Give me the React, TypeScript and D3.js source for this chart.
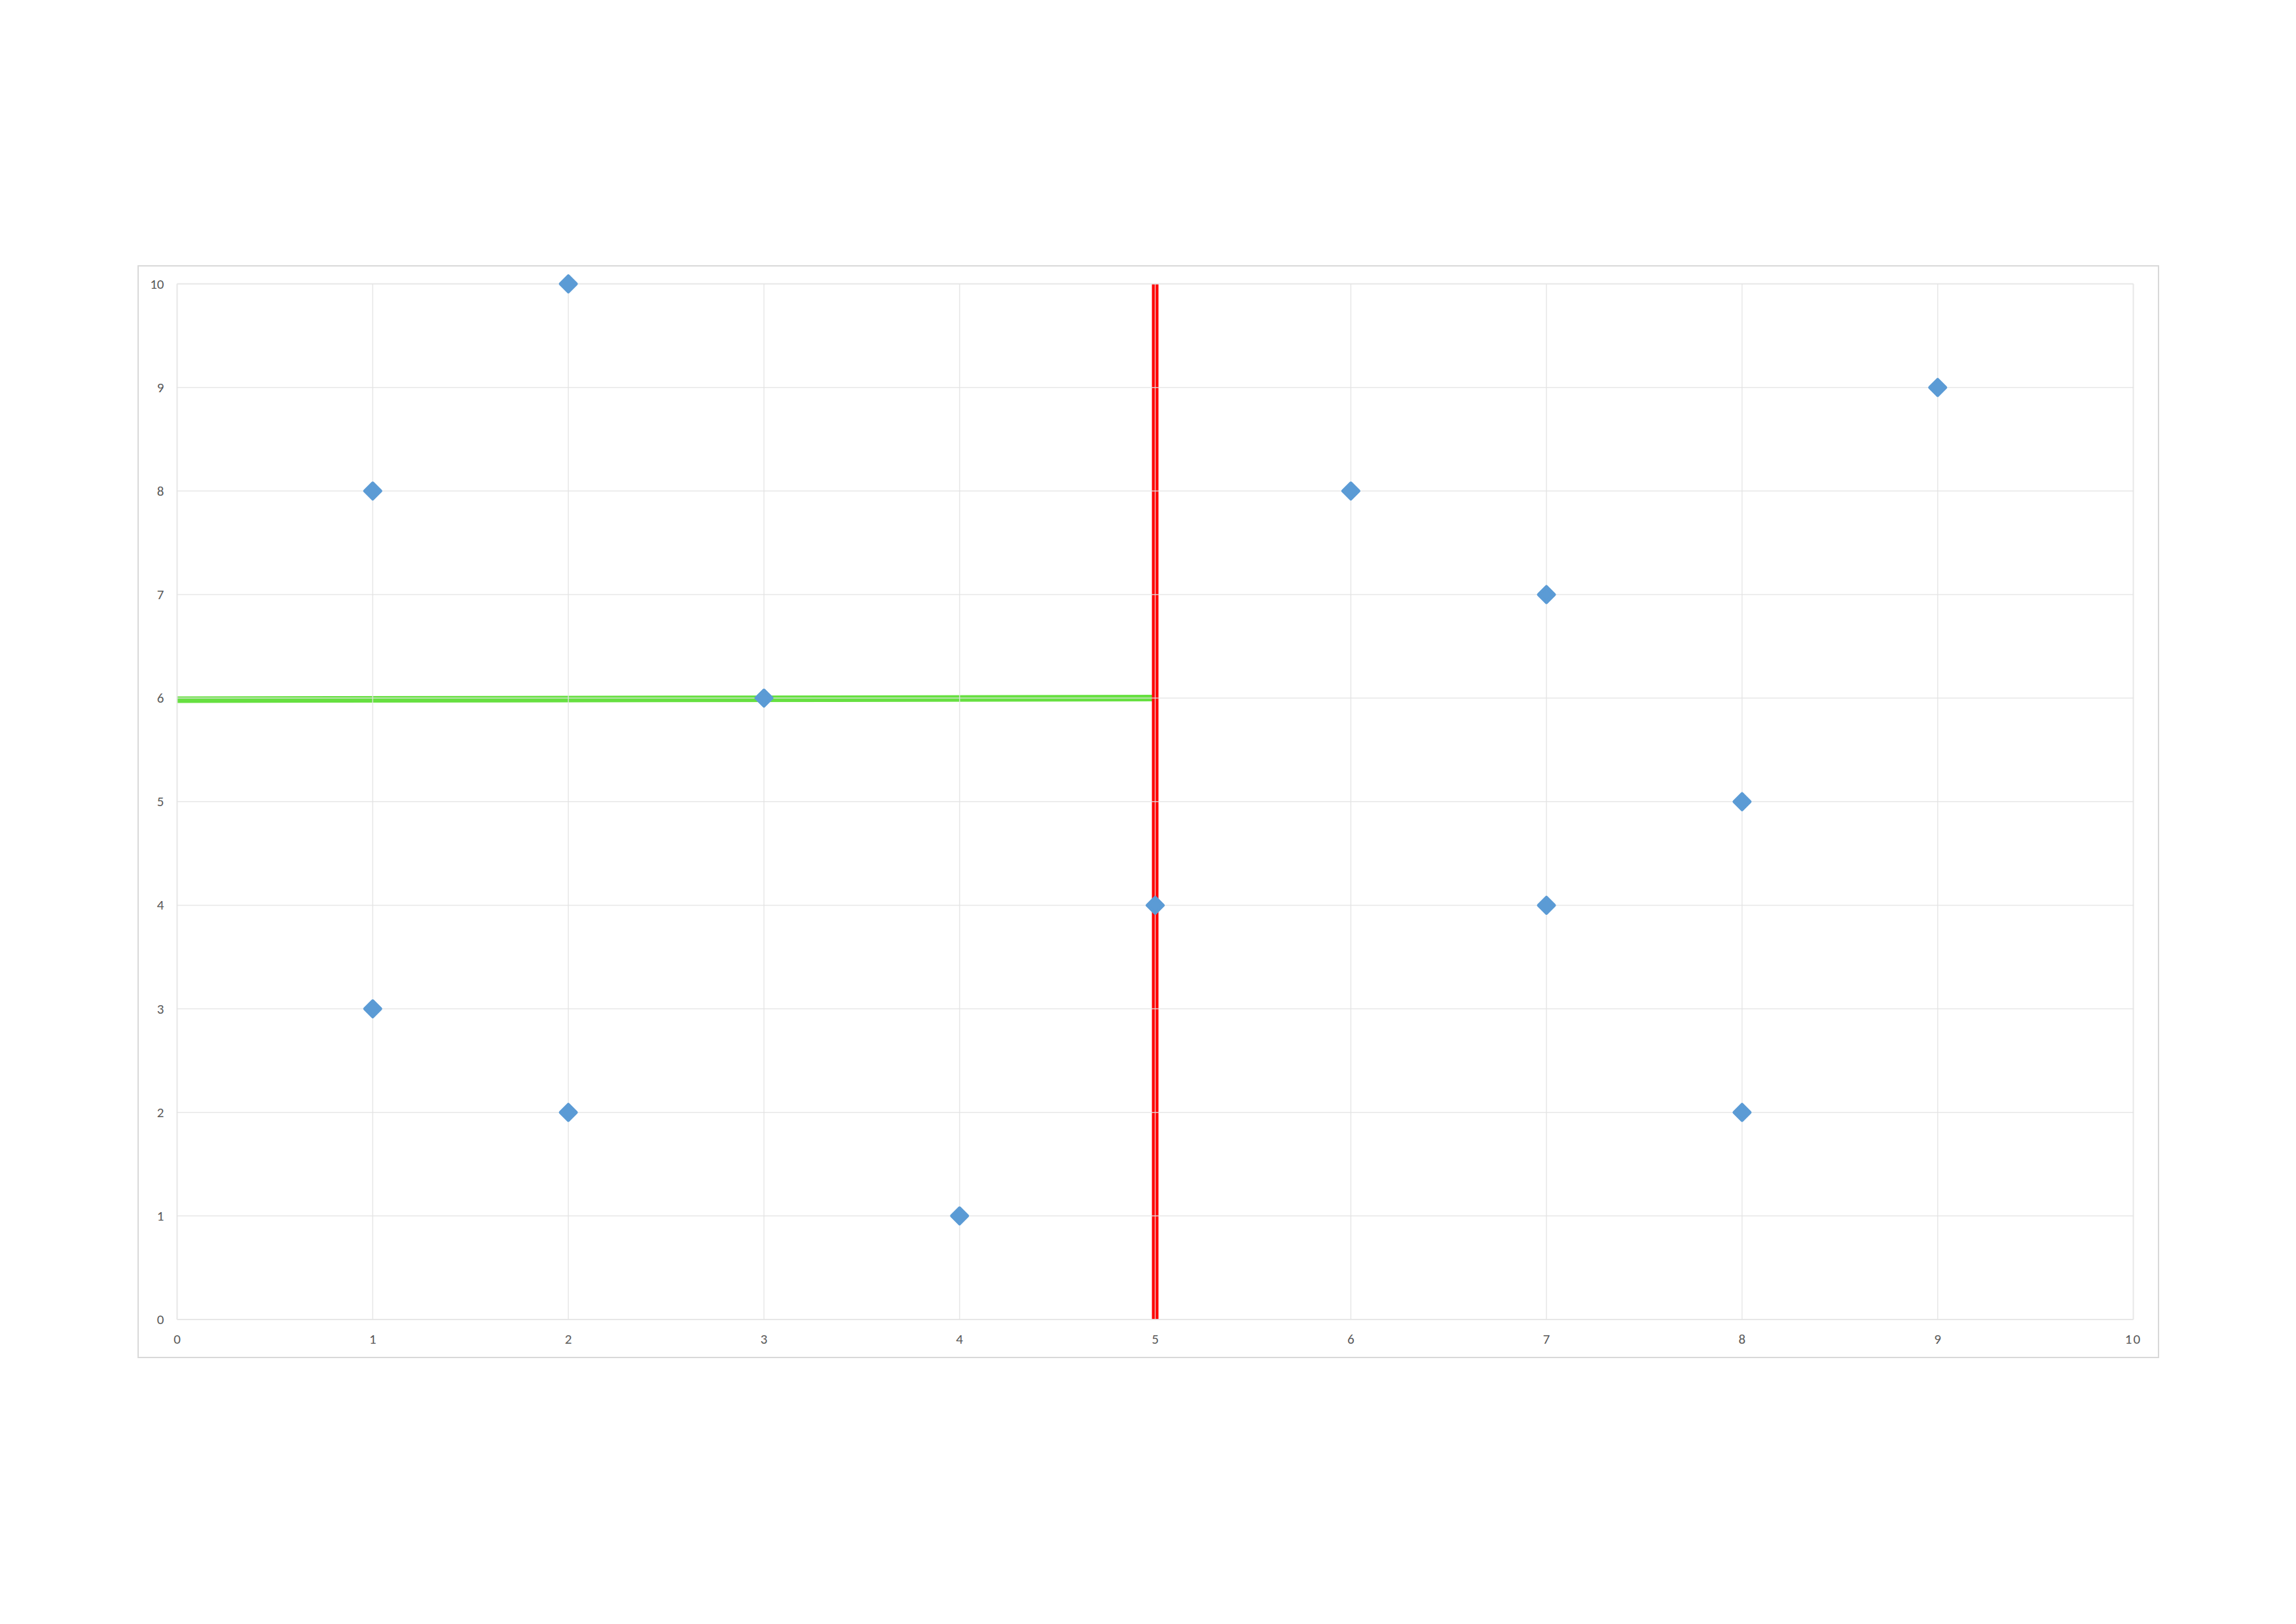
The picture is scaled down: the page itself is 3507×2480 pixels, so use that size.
import React from "react";
import * as d3 from "d3";

const pointX = [1, 2, 9, 6, 7, 3, 8, 5, 7, 1, 2, 8, 4];
const pointY = [8, 10, 9, 8, 7, 6, 5, 4, 4, 3, 2, 2, 1];
const greenX = [0, 5];
const greenY = [5.985, 6];
const redX = [5, 5];
const redY = [0, 10];
const xTicks = [0, 1, 2, 3, 4, 5, 6, 7, 8, 9, 10];
const yTicks = [0, 1, 2, 3, 4, 5, 6, 7, 8, 9, 10];

const W = 3507;
const H = 2480;
const frame = { x: 211, y: 406, w: 3086, h: 1667 };
const plot = { l: 270.5, t: 433.5, r: 3258.5, b: 2015 };

export default function App() {
  const x = d3.scaleLinear().domain([0, 10]).range([plot.l, plot.r]);
  const y = d3.scaleLinear().domain([0, 10]).range([plot.b, plot.t]);
  const line = d3
    .line<[number, number]>()
    .x((d) => x(d[0]))
    .y((d) => y(d[1]));
  const green = greenX.map((v, i) => [v, greenY[i]] as [number, number]);
  const red = redX.map((v, i) => [v, redY[i]] as [number, number]);
  const r = 12;
  const diamond = `M0,${-r}L${r},0L0,${r}L${-r},0Z`;
  const font = "Carlito, Calibri, Lato, 'Open Sans', sans-serif";
  const grid = "#e3e3e3";

  return (
    <svg
      width={W}
      height={H}
      style={{ position: "absolute", left: 0, top: 0, background: "#fff" }}
    >
      <rect x={0} y={0} width={W} height={H} fill="#fff" />
      <rect
        x={frame.x}
        y={frame.y}
        width={frame.w}
        height={frame.h}
        fill="#fff"
        stroke="#d9d9d9"
        strokeWidth={2}
      />
      {/* series lines */}
      <path d={line(green) || ""} stroke="#66E040" strokeWidth={10} fill="none" />
      <path d={line(red) || ""} stroke="#FF0000" strokeWidth={10} fill="none" />
      {/* gridlines */}
      {xTicks.map((t) => (
        <line
          key={"gx" + t}
          x1={x(t)}
          x2={x(t)}
          y1={plot.t}
          y2={plot.b}
          stroke={grid}
          strokeWidth={t === 0 || t === 10 ? 2 : 1.5}
          strokeOpacity={0.85}
        />
      ))}
      {yTicks.map((t) => (
        <line
          key={"gy" + t}
          x1={plot.l}
          x2={plot.r}
          y1={y(t)}
          y2={y(t)}
          stroke={grid}
          strokeWidth={t === 0 || t === 10 ? 2 : 1.5}
          strokeOpacity={0.85}
        />
      ))}
      {/* markers */}
      {pointX.map((px, i) => (
        <path
          key={"p" + i}
          d={diamond}
          transform={`translate(${x(px)},${y(pointY[i])})`}
          fill="#5B9BD5"
          stroke="#5B9BD5"
          strokeWidth={5}
          strokeLinejoin="round"
        />
      ))}
      {/* tick labels */}
      {yTicks.map((t) => (
        <text
          key={"ly" + t}
          x={plot.l - 20}
          y={y(t)}
          textAnchor="end"
          dominantBaseline="central"
          fontFamily={font}
          fontSize={21}
          fill="#595959"
        >
          {t}
        </text>
      ))}
      {xTicks.map((t) => (
        <text
          key={"lx" + t}
          x={x(t)}
          y={plot.b + 30}
          textAnchor="middle"
          dominantBaseline="central"
          fontFamily={font}
          fontSize={21}
          fill="#595959"
          letterSpacing={t === 10 ? 2 : 0}
        >
          {t}
        </text>
      ))}
    </svg>
  );
}
